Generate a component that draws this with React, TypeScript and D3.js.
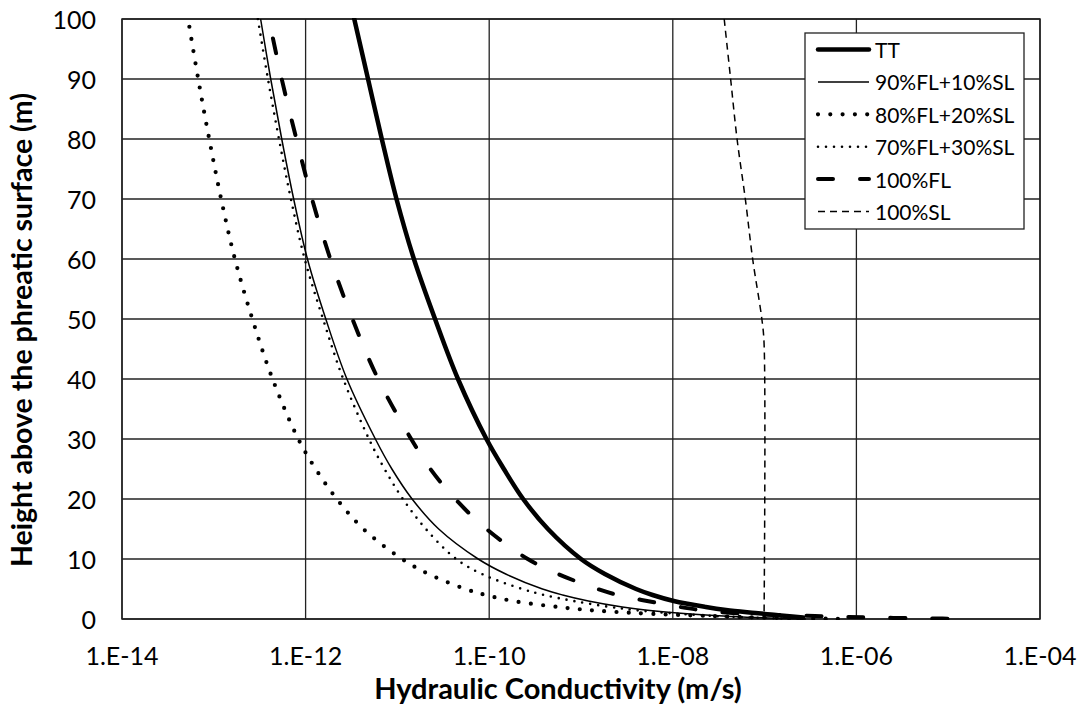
import React from "react";
import * as d3 from "d3";

// Heights above the phreatic surface (m) and log10 of hydraulic conductivity (m/s)
const TT_H = [100, 90, 80, 70, 60, 50, 40, 30, 25, 20, 15, 10, 7.5, 5, 4, 3, 2, 1.5, 1, 0.5, 0.25];
const TT_LOGK = [-11.47, -11.32, -11.17, -11.01, -10.82, -10.59, -10.34, -10.03, -9.84, -9.63, -9.36, -9.0, -8.74, -8.4, -8.22, -7.99, -7.64, -7.42, -7.1, -6.76, -6.58];

const FL90_H = [100, 90, 80, 70, 60, 50, 40, 30, 25, 20, 15, 10, 7.5, 5, 4, 3, 2, 1.5, 1, 0.5, 0.25, 0.1, 0];
const FL90_LOGK = [-12.49, -12.38, -12.26, -12.13, -11.98, -11.78, -11.55, -11.24, -11.06, -10.84, -10.55, -10.12, -9.82, -9.42, -9.2, -8.92, -8.55, -8.3, -7.95, -7.45, -7.1, -6.8, -6.55];

const FL80_H = [100, 90, 80, 70, 60, 50, 40, 30, 25, 20, 15, 10, 7.5, 5, 4, 3, 2, 1.5, 1, 0.5, 0.25, 0.1, 0];
const FL80_LOGK = [-13.28, -13.17, -13.05, -12.92, -12.77, -12.58, -12.36, -12.08, -11.89, -11.66, -11.37, -10.95, -10.66, -10.26, -10.04, -9.74, -9.25, -8.92, -8.42, -7.6, -7.05, -6.55, -6.1];

const FL70_H = [100, 90, 80, 70, 60, 50, 40, 30, 25, 20, 15, 10, 7.5, 5, 4, 3, 2, 1.5, 1, 0.5, 0.25, 0.1, 0];
const FL70_LOGK = [-12.52, -12.41, -12.29, -12.16, -12.01, -11.81, -11.59, -11.31, -11.14, -10.94, -10.69, -10.36, -10.08, -9.64, -9.4, -9.08, -8.68, -8.42, -8.05, -7.55, -7.15, -6.85, -6.6];

const FL100_H = [100, 90, 80, 70, 60, 50, 40, 30, 25, 20, 15, 10, 7.5, 5, 4, 3, 2, 1.5, 1, 0.5, 0.25, 0.1, 0];
const FL100_LOGK = [-12.4, -12.26, -12.1, -11.93, -11.73, -11.49, -11.21, -10.85, -10.64, -10.37, -10.03, -9.58, -9.25, -8.82, -8.6, -8.28, -7.92, -7.7, -7.35, -6.45, -5.85, -5.2, -4.82];

const SL_H = [100, 90, 80, 70, 60, 50, 46, 0];
const SL_LOGK = [-7.44, -7.37, -7.3, -7.21, -7.13, -7.03, -7.006, -7.006];

const SERIES_NAMES = ["TT", "90%FL+10%SL", "80%FL+20%SL", "70%FL+30%SL", "100%FL", "100%SL"];

const X_TICKS = [-14, -12, -10, -8, -6, -4];
const X_TICK_LABELS = ["1.E-14", "1.E-12", "1.E-10", "1.E-08", "1.E-06", "1.E-04"];
const Y_TICKS = [0, 10, 20, 30, 40, 50, 60, 70, 80, 90, 100];

const W = 1085, H = 708;
const M = { left: 122, right: 1040, top: 19, bottom: 619 };

type Style = { width: number; dash?: string; cap?: "round" | "butt"; offset?: number };

const STYLES: Style[] = [
  { width: 4.5, cap: "round" },
  { width: 1.5 },
  { width: 4.2, dash: "0 12.3", cap: "round", offset: 4.3 },
  { width: 2.6, dash: "0 8", cap: "round" },
  { width: 4, dash: "15 27", cap: "round", offset: 22 },
  { width: 1.5, dash: "7 5" },
];

export default function App() {
  const x = d3.scaleLog().domain([1e-14, 1e-4]).range([M.left, M.right]);
  const y = d3.scaleLinear().domain([0, 100]).range([M.bottom, M.top]);

  const build = (hs: number[], ks: number[]): [number, number][] =>
    hs.map((h, i) => [Math.pow(10, ks[i]), h]);

  const series: [number, number][][] = [
    build(TT_H, TT_LOGK),
    build(FL90_H, FL90_LOGK),
    build(FL80_H, FL80_LOGK),
    build(FL70_H, FL70_LOGK),
    build(FL100_H, FL100_LOGK),
    build(SL_H, SL_LOGK),
  ];

  const line = d3
    .line<[number, number]>()
    .x((d) => x(d[0]))
    .y((d) => y(d[1]))
    .curve(d3.curveCatmullRom.alpha(0.5));

  const font = "Lato, 'Open Sans', sans-serif";
  const legendX = 805, legendY = 33, legendW = 219, legendH = 196;
  const rowH = 32.4;

  return (
    <svg width={W} height={H} style={{ position: "absolute", left: 0, top: 0, background: "#fff" }} fontFamily={font}>
      <rect x={0} y={0} width={W} height={H} fill="#fff" />
      <defs>
        <clipPath id="plot">
          <rect x={M.left} y={M.top - 1} width={M.right - M.left} height={M.bottom - M.top + 2} />
        </clipPath>
      </defs>
      {/* gridlines */}
      {Y_TICKS.map((t) => (
        <line key={"gy" + t} x1={M.left} x2={M.right} y1={y(t)} y2={y(t)} stroke="#222" strokeWidth={1.3} />
      ))}
      {X_TICKS.map((t) => (
        <line key={"gx" + t} x1={x(Math.pow(10, t))} x2={x(Math.pow(10, t))} y1={M.top} y2={M.bottom} stroke="#222" strokeWidth={1.3} />
      ))}
      <rect x={M.left} y={M.top} width={M.right - M.left} height={M.bottom - M.top} fill="none" stroke="#222" strokeWidth={1.5} />

      {/* series */}
      <g clipPath="url(#plot)">
        {series.map((s, i) => (
          <path
            key={SERIES_NAMES[i]}
            d={line(s) || ""}
            fill="none"
            stroke="#000"
            strokeWidth={STYLES[i].width}
            strokeDasharray={STYLES[i].dash}
            strokeDashoffset={STYLES[i].offset || 0}
            strokeLinecap={STYLES[i].cap || "butt"}
            strokeLinejoin="round"
          />
        ))}
      </g>

      {/* axis tick labels */}
      {Y_TICKS.map((t) => (
        <text key={"ly" + t} x={96} y={y(t)} textAnchor="end" dominantBaseline="central" fontSize={25} fill="#000">
          {t}
        </text>
      ))}
      {X_TICKS.map((t, i) => (
        <text key={"lx" + t} x={x(Math.pow(10, t))} y={665} textAnchor="middle" fontSize={25} fill="#000">
          {X_TICK_LABELS[i]}
        </text>
      ))}

      {/* axis titles */}
      <text x={(M.left + M.right) / 2 - 23} y={699} textAnchor="middle" fontSize={29} fontWeight="bold" fill="#000">
        Hydraulic Conductivity (m/s)
      </text>
      <text transform={`translate(32, 330) rotate(-90)`} textAnchor="middle" fontSize={28.5} fontWeight="bold" fill="#000">
        Height above the phreatic surface (m)
      </text>

      {/* legend */}
      <rect x={legendX} y={legendY} width={legendW} height={legendH} fill="#fff" stroke="#222" strokeWidth={1.3} />
      {SERIES_NAMES.map((name, i) => {
        const cy = legendY + 16.5 + i * rowH;
        return (
          <g key={"lg" + name}>
            <line
              x1={818}
              x2={869}
              y1={cy}
              y2={cy}
              stroke="#000"
              strokeWidth={STYLES[i].width}
              strokeDasharray={STYLES[i].dash}
              strokeLinecap={STYLES[i].cap || "butt"}
            />
            <text x={875} y={cy} dominantBaseline="central" fontSize={21} fill="#000">
              {name}
            </text>
          </g>
        );
      })}
    </svg>
  );
}
